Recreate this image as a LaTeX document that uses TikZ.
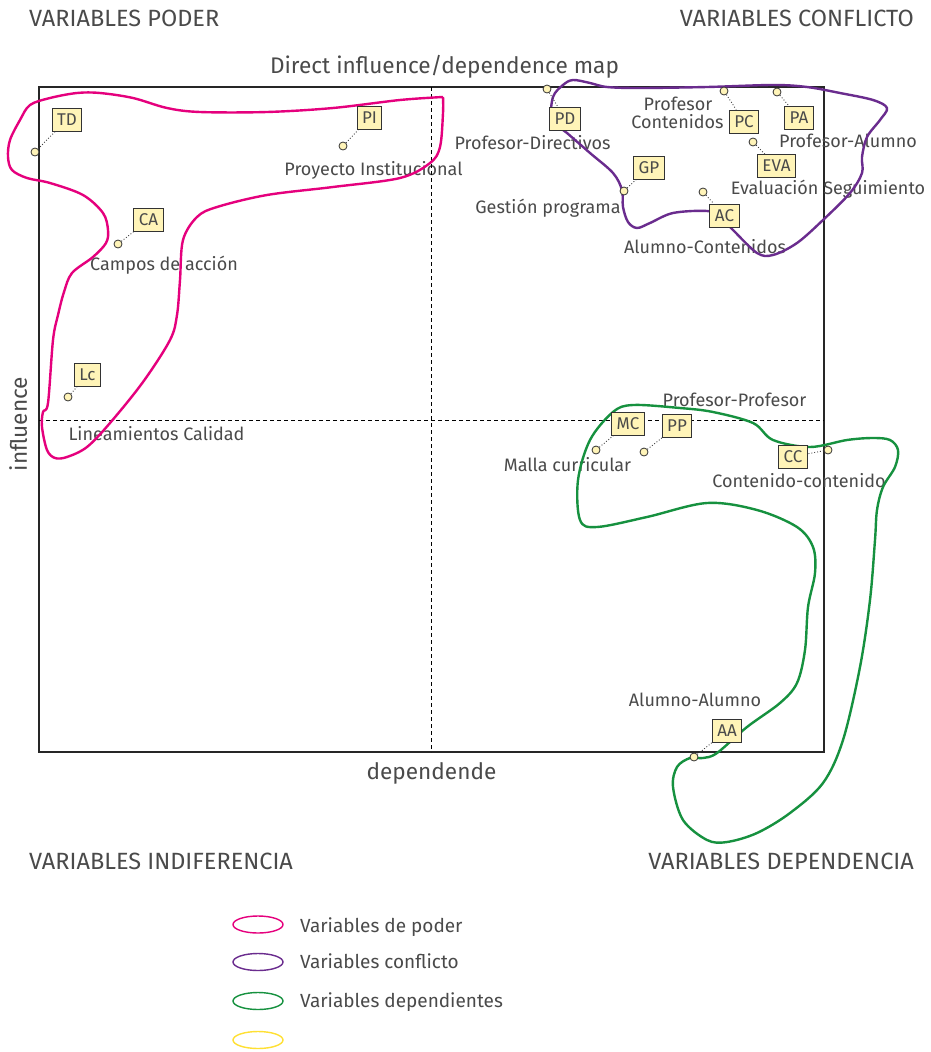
\documentclass[tikz,border=0pt]{standalone}
\usepackage{fontspec}
\setmainfont{Fira Sans}
\usetikzlibrary{shapes.geometric}
\definecolor{ink}{HTML}{4A4A4A}
\definecolor{boxfill}{HTML}{FFF4B8}
\definecolor{poder}{HTML}{E5007D}
\definecolor{conflicto}{HTML}{6A2C8E}
\definecolor{dependientes}{HTML}{16913F}
\definecolor{indiferencia}{HTML}{FFE033}
\tikzset{
  lbl/.style={anchor=base, inner sep=0pt, text=ink, font=\fontsize{18}{18}\selectfont},
  corner/.style={anchor=base, inner sep=0pt, text=ink, font=\fontsize{23.5}{23.5}\selectfont},
  axis/.style={inner sep=0pt, text=ink, font=\fontsize{22.6}{22.6}\selectfont},
  varbox/.style={draw=black!80, line width=1pt, fill=boxfill, text=ink,
    font=\fontsize{17}{17}\selectfont, inner xsep=5pt, inner ysep=0pt,
    minimum height=23pt, minimum width=23pt},
  vdot/.style={circle, draw=black!80, line width=0.8pt, fill=boxfill,
    inner sep=0pt, minimum size=8pt},
  leader/.style={dotted, line width=0.9pt, black!75},
  guide/.style={dashed, line width=0.9pt, dash pattern=on 4pt off 3pt, black},
  blob/.style={line width=2.4pt, line join=round},
  legendring/.style={ellipse, line width=1.4pt, minimum width=50pt, minimum height=17pt, inner sep=0pt},
  legendtext/.style={lbl, anchor=base west, font=\fontsize{19}{19}\selectfont},
}
\begin{document}
\begin{tikzpicture}[x=1pt,y=-1pt]
\useasboundingbox (0,0) rectangle (931,1052);
\fill[white] (0,0) rectangle (931,1052);

% quadrant headings
\node[corner, anchor=base west] (hPoder) at (29,27) {VARIABLES PODER};
\node[corner, anchor=base east] (hConflicto) at (914,27) {VARIABLES CONFLICTO};
\node[corner, anchor=base west] (hIndif) at (29,869) {VARIABLES INDIFERENCIA};
\node[corner, anchor=base east] (hDep) at (914,869) {VARIABLES DEPENDENCIA};

% title and axis names
\node[axis, anchor=base] (title) at (444.5,73) {Direct influence/dependence map};
\node[axis, anchor=base] (xname) at (431.5,779) {dependende};
\node[axis, anchor=base, rotate=90] (yname) at (27,424) {influence};

% frame and quadrant guides
\coordinate (tl) at (39,87);
\coordinate (br) at (824,752);
\draw[line width=1.2pt, black!85] (tl) rectangle (br);
\coordinate (vtop) at (431,87);
\coordinate (vbot) at (431,752);
\coordinate (hleft) at (39,420);
\coordinate (hright) at (824,420);

% variable names
\node[lbl] (tPI) at (373.5,175) {Proyecto Institucional};
\node[lbl] (tCA) at (164,270) {Campos de acción};
\node[lbl] (tLc) at (156.5,440) {Lineamientos Calidad};
\node[lbl] (tPD) at (532.5,149) {Profesor-Directivos};
\node[lbl] (tGP) at (548,213) {Gestión programa};
\node[lbl] (tPCa) at (678,110.5) {Profesor};
\node[lbl] (tPCb) at (677.5,128.5) {Contenidos};
\node[lbl] (tPA) at (848,147) {Profesor-Alumno};
\node[lbl] (tEVA) at (828,194) {Evaluación Seguimiento};
\node[lbl] (tAC) at (705,253) {Alumno-Contenidos};
\node[lbl] (tMC) at (567.5,471) {Malla curricular};
\node[lbl] (tPP) at (734.5,406) {Profesor-Profesor};
\node[lbl] (tCC) at (799,487) {Contenido-contenido};
\node[lbl] (tAA) at (695,706) {Alumno-Alumno};

\draw[guide] (vtop) -- (vbot);
\draw[guide] (hleft) -- (hright);

% variable groupings
\draw[blob, poder] plot[smooth, tension=0.55] coordinates {
  (443,97) (400,100) (333,108) (267,112) (200,112) (167,108) (133,98)
  (100,93) (77,93) (50,98) (30,105) (20,120) (10,140) (8,157) (12,170)
  (27,178) (50,183) (83,195) (103,213) (108,230) (106,243) (93,257)
  (72,273) (64,292) (58,315) (53,340) (48,403) (43,412) (42,427)
  (47,450) (55,458) (67,457) (87,447) (110,423) (143,382) (170,340)
  (177,315) (180,280) (183,240) (197,217) (217,207) (267,195) (333,187)
  (400,178) (430,163) (440,147) (443,113) (443,97)};
\draw[blob, conflicto] plot[smooth cycle, tension=0.55] coordinates {
  (552,120) (553,97) (563,85) (573,80) (590,83) (607,87) (640,88)
  (707,87) (773,85) (807,87) (840,93) (873,100) (887,108) (880,120)
  (867,137) (862,157) (862,173) (850,193) (823,220) (797,243) (773,255)
  (757,253) (733,230) (720,217) (707,211) (673,213) (650,223) (637,228)
  (628,222) (623,207) (622,190) (613,173) (590,153) (567,133)};
\draw[blob, dependientes] plot[smooth cycle, tension=0.55] coordinates {
  (633,405) (680,408) (713,412) (753,423) (773,440) (810,447) (847,440)
  (873,438) (890,440) (898,450) (895,467) (883,487) (877,510) (875,540)
  (870,600) (860,667) (843,740) (823,783) (790,813) (757,833) (727,842)
  (707,840) (683,820) (673,787) (677,767) (690,758) (703,758) (717,753)
  (747,727) (780,703) (797,683) (805,650) (808,607) (815,573) (813,547)
  (797,527) (757,510) (707,503) (647,517) (597,527) (580,520) (578,480)
  (590,440) (613,412)};

% variable markers
\node[vdot] (dTD) at (35,152) {};
\node[vdot] (dPI) at (343,146) {};
\node[vdot] (dCA) at (118,244) {};
\node[vdot] (dLc) at (68,397) {};
\node[vdot] (dPD) at (547,89) {};
\node[vdot] (dGP) at (624,191) {};
\node[vdot] (dPC) at (724,91) {};
\node[vdot] (dPA) at (777,92) {};
\node[vdot] (dEVA) at (753,142) {};
\node[vdot] (dAC) at (703,192) {};
\node[vdot] (dMC) at (596,450) {};
\node[vdot] (dPP) at (644,452) {};
\node[vdot] (dCC) at (828,450) {};
\node[vdot] (dAA) at (694,757) {};

\node[varbox] (TD) at (67,119.5) {TD};
\node[varbox] (PI) at (369.5,118) {PI};
\node[varbox] (CA) at (148.5,220) {CA};
\node[varbox] (Lc) at (87.5,375) {Lc};
\node[varbox] (PD) at (565,118.5) {PD};
\node[varbox] (GP) at (649,167.5) {GP};
\node[varbox] (PC) at (744,121.5) {PC};
\node[varbox] (PA) at (799,117.5) {PA};
\node[varbox] (EVA) at (776.5,166) {EVA};
\node[varbox] (AC) at (724.5,215.5) {AC};
\node[varbox] (MC) at (628,423.5) {MC};
\node[varbox] (PP) at (677,426) {PP};
\node[varbox] (CC) at (793,456.5) {CC};
\node[varbox] (AA) at (727,730.5) {AA};

\foreach \v in {TD,PI,CA,Lc,PD,GP,PC,PA,EVA,AC,MC,PP,CC,AA}
  \draw[leader] (d\v) -- (\v);

% legend
\node[legendring, draw=poder] (kPoder) at (258,924.5) {};
\node[legendring, draw=conflicto] (kConflicto) at (258,962) {};
\node[legendring, draw=dependientes] (kDep) at (258,1001) {};
\node[legendring, draw=indiferencia] (kIndif) at (258,1040) {};
\node[legendtext] (lPoder) at (300,932) {Variables de poder};
\node[legendtext] (lConflicto) at (300,968) {Variables conflicto};
\node[legendtext] (lDep) at (300,1007) {Variables dependientes};
\end{tikzpicture}
\end{document}
